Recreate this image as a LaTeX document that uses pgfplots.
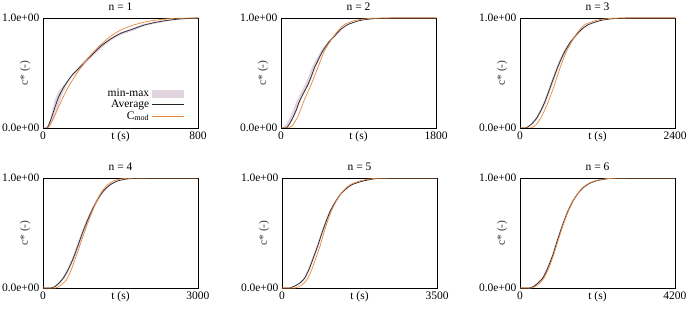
\documentclass[border=0pt]{standalone}
\usepackage{pgfplots}
\pgfplotsset{compat=1.18}
\usepackage{fontspec}
\setmainfont{Liberation Serif}
\definecolor{bandc}{RGB}{226,212,222}
\definecolor{orangec}{RGB}{232,135,58}
\definecolor{avgc}{RGB}{35,35,45}
\definecolor{labc}{RGB}{60,60,60}
\pgfplotsset{
  panel/.style={
    width=155pt, height=110pt, scale only axis,
    font=\fontsize{11.5}{13}\selectfont,
    /pgf/number format/assume math mode=true,
    /pgf/number format/1000 sep={},
    xmin=0, ymin=0, ymax=1,
    ytick={0,1}, yticklabels={0.0e+00,1.0e+00},
    tick style={draw=none},
    axis line style={line width=0.8pt},
    xlabel={t (s)}, ylabel={c* (-)},
    xlabel style={at={(axis description cs:0.5,0)}, anchor=north, inner sep=0.333em},
    ylabel style={at={(axis description cs:-0.116,0.5)}, anchor=center, text=labc},
    title style={yshift=-2pt},
    anchor=south west,
  },
  avg/.style={avgc, line width=0.7pt, smooth, tension=0.4,
    legend image code/.code={\draw[##1] (0pt,0pt) -- (32pt,0pt);}},
  cmod/.style={orangec, line width=0.7pt, smooth, tension=0.4,
    legend image code/.code={\draw[##1] (0pt,0pt) -- (32pt,0pt);}},
  band/.style={fill=bandc, draw=none,
    legend image code/.code={\fill[bandc] (0pt,-4pt) rectangle (32pt,4pt);}},
}
\begin{document}
\begin{tikzpicture}
\useasboundingbox (0,0) rectangle (686pt,314pt);
% ---------- n = 1
\begin{axis}[panel, at={(43pt,186pt)}, xmax=800, xtick={0,800}, title={n = 1},
  legend plot pos=right, legend cell align=right,
  legend style={draw=none, fill=none, at={(axis description cs:0.93,0.03)}, anchor=south east,
    font=\fontsize{11.5}{13}\selectfont, row sep=-2pt}]
\addplot[band] coordinates {(20,0) (40,0.1) (60,0.25) (80,0.33) (100,0.38) (125,0.43) (150,0.49) (200,0.59) (250,0.68) (300,0.76) (350,0.82) (400,0.87) (465,0.91) (520,0.945) (580,0.968) (640,0.983) (700,0.993) (800,1)
 (800,1) (700,0.985) (640,0.97) (580,0.95) (520,0.925) (465,0.885) (400,0.845) (350,0.795) (300,0.725) (250,0.64) (200,0.55) (150,0.465) (125,0.40) (100,0.31) (80,0.2) (60,0.1) (45,0.04) (30,0)};
\addlegendentry{min-max}
\addplot[avg] coordinates {(0,0) (20,0) (30,0.03) (45,0.1) (60,0.18) (80,0.28) (100,0.35) (125,0.42) (150,0.48) (200,0.57) (250,0.66) (300,0.745) (350,0.81) (400,0.86) (465,0.9) (520,0.935) (580,0.96) (640,0.978) (700,0.99) (760,0.997) (800,1)};
\addlegendentry{Average}
\addplot[cmod] coordinates {(0,0) (25,0) (40,0.04) (60,0.11) (80,0.19) (100,0.265) (122,0.345) (150,0.43) (180,0.51) (217,0.6) (260,0.69) (300,0.76) (346,0.83) (400,0.89) (465,0.935) (530,0.965) (600,0.985) (680,0.997) (800,1)};
\addlegendentry{C\textsubscript{mod}}
\end{axis}
% ---------- n = 2
\begin{axis}[panel, at={(281pt,186pt)}, xmax=1800, xtick={0,1800}, title={n = 2}]
\addplot[band] coordinates {(25,0) (40,0.02) (65,0.04) (100,0.09) (140,0.16) (178,0.24) (225,0.315) (275,0.39) (318,0.465) (355,0.545) (408,0.625) (462,0.70) (542,0.785) (625,0.85) (690,0.9) (766,0.94) (904,0.976) (1045,0.992) (1250,1)
 (1300,1) (1060,0.992) (920,0.976) (784,0.94) (712,0.9) (652,0.85) (573,0.785) (497,0.70) (448,0.625) (400,0.545) (362,0.465) (322,0.39) (272,0.315) (225,0.24) (187,0.16) (147,0.09) (112,0.04) (82,0.005) (67,0)};
\addplot[avg] coordinates {(0,0) (55,0) (70,0.005) (100,0.04) (135,0.09) (175,0.16) (213,0.24) (260,0.315) (310,0.39) (350,0.465) (387,0.545) (435,0.625) (484,0.70) (560,0.785) (639,0.85) (700,0.9) (774,0.94) (910,0.976) (1050,0.992) (1250,0.999) (1800,1)};
\addplot[cmod] coordinates {(0,0) (85,0) (97,0.003) (140,0.03) (186,0.09) (225,0.16) (263,0.24) (305,0.315) (348,0.39) (388,0.47) (426,0.545) (465,0.625) (503,0.70) (565,0.78) (627,0.85) (680,0.9) (735,0.94) (852,0.976) (980,0.993) (1150,0.999) (1800,1)};
\end{axis}
% ---------- n = 3
\begin{axis}[panel, at={(520pt,186pt)}, xmax=2400, xtick={0,2400}, title={n = 3}]
\addplot[band] coordinates {(75,0) (83,0.003) (160,0.035) (238,0.09) (305,0.16) (367,0.24) (415,0.315) (460,0.39) (510,0.47) (558,0.545) (615,0.625) (677,0.70) (760,0.78) (857,0.85) (940,0.9) (1038,0.94) (1219,0.976) (1400,0.993) (1680,1)
 (1720,1) (1440,0.993) (1259,0.976) (1078,0.94) (980,0.9) (897,0.85) (800,0.78) (717,0.70) (655,0.625) (598,0.545) (550,0.47) (500,0.39) (455,0.315) (407,0.24) (345,0.16) (278,0.09) (200,0.035) (123,0.003) (115,0)};
\addplot[avg] coordinates {(0,0) (90,0) (103,0.003) (180,0.035) (258,0.09) (325,0.16) (387,0.24) (435,0.315) (480,0.39) (530,0.47) (578,0.545) (635,0.625) (697,0.70) (780,0.78) (877,0.85) (960,0.9) (1058,0.94) (1239,0.976) (1420,0.993) (1700,1) (2400,1)};
\addplot[cmod] coordinates {(0,0) (170,0) (181,0.003) (250,0.03) (320,0.09) (380,0.16) (439,0.24) (487,0.315) (532,0.39) (576,0.47) (619,0.545) (670,0.625) (723,0.70) (795,0.78) (867,0.85) (935,0.9) (1006,0.94) (1161,0.976) (1330,0.993) (1600,1) (2400,1)};
\end{axis}
% ---------- n = 4
\begin{axis}[panel, at={(43pt,26pt)}, xmax=3000, xtick={0,3000}, title={n = 4}]
\addplot[band] coordinates {(125,0) (195,0.01) (275,0.04) (368,0.09) (465,0.17) (561,0.27) (655,0.39) (754,0.52) (850,0.63) (947,0.73) (1045,0.815) (1141,0.88) (1265,0.935) (1398,0.97) (1555,0.988) (1720,0.996) (1975,1)
 (2025,1) (1770,0.996) (1605,0.988) (1448,0.97) (1315,0.935) (1191,0.88) (1095,0.815) (997,0.73) (900,0.63) (804,0.52) (705,0.39) (611,0.27) (515,0.17) (418,0.09) (325,0.04) (245,0.01) (175,0)};
\addplot[avg] coordinates {(0,0) (150,0) (220,0.01) (300,0.04) (393,0.09) (490,0.17) (586,0.27) (680,0.39) (779,0.52) (875,0.63) (972,0.73) (1070,0.815) (1166,0.88) (1290,0.935) (1423,0.97) (1580,0.988) (1745,0.996) (2000,1) (3000,1)};
\addplot[cmod] coordinates {(0,0) (240,0) (300,0.01) (380,0.04) (457,0.076) (550,0.17) (650,0.30) (745,0.43) (843,0.56) (940,0.68) (1037,0.79) (1130,0.87) (1230,0.93) (1350,0.97) (1487,0.99) (1650,0.998) (2000,1) (3000,1)};
\end{axis}
% ---------- n = 5
\begin{axis}[panel, at={(282pt,26pt)}, xmax=3500, xtick={0,3500}, title={n = 5}]
\addplot[band] coordinates {(163,0) (275,0.02) (395,0.05) (487,0.09) (575,0.16) (652,0.24) (720,0.315) (788,0.39) (852,0.47) (916,0.545) (990,0.625) (1066,0.70) (1175,0.78) (1292,0.85) (1415,0.9) (1556,0.94) (1781,0.97) (2025,0.99) (2375,1)
 (2425,1) (2075,0.99) (1831,0.97) (1606,0.94) (1465,0.9) (1342,0.85) (1225,0.78) (1116,0.70) (1040,0.625) (966,0.545) (902,0.47) (838,0.39) (770,0.315) (702,0.24) (625,0.16) (537,0.09) (445,0.05) (325,0.02) (213,0)};
\addplot[avg] coordinates {(0,0) (170,0) (188,0.002) (300,0.02) (420,0.05) (512,0.09) (600,0.16) (677,0.24) (745,0.315) (813,0.39) (877,0.47) (941,0.545) (1015,0.625) (1091,0.70) (1200,0.78) (1317,0.85) (1440,0.9) (1581,0.94) (1806,0.97) (2050,0.99) (2400,1) (3500,1)};
\addplot[cmod] coordinates {(0,0) (285,0) (301,0.002) (400,0.015) (500,0.045) (587,0.09) (665,0.16) (738,0.24) (802,0.315) (866,0.39) (922,0.47) (979,0.545) (1045,0.625) (1114,0.70) (1210,0.78) (1317,0.85) (1420,0.9) (1543,0.94) (1731,0.97) (1950,0.99) (2300,1) (3500,1)};
\end{axis}
% ---------- n = 6
\begin{axis}[panel, at={(520pt,26pt)}, xmax=4200, xtick={0,4200}, title={n = 6}]
\addplot[band] coordinates {(225,0) (325,0.01) (445,0.04) (592,0.09) (725,0.18) (864,0.30) (995,0.44) (1136,0.58) (1275,0.70) (1408,0.79) (1545,0.86) (1680,0.91) (1855,0.95) (2043,0.975) (2275,0.99) (2496,0.997) (2875,1)
 (2925,1) (2546,0.997) (2325,0.99) (2093,0.975) (1905,0.95) (1730,0.91) (1595,0.86) (1458,0.79) (1325,0.70) (1186,0.58) (1045,0.44) (914,0.30) (775,0.18) (642,0.09) (495,0.04) (375,0.01) (275,0)};
\addplot[avg] coordinates {(0,0) (250,0) (350,0.01) (470,0.04) (617,0.09) (750,0.18) (889,0.30) (1020,0.44) (1161,0.58) (1300,0.70) (1433,0.79) (1570,0.86) (1705,0.91) (1880,0.95) (2068,0.975) (2300,0.99) (2521,0.997) (2900,1) (4200,1)};
\addplot[cmod] coordinates {(0,0) (300,0) (400,0.01) (520,0.04) (650,0.09) (780,0.18) (910,0.30) (1040,0.44) (1175,0.58) (1310,0.70) (1440,0.79) (1575,0.865) (1705,0.915) (1880,0.955) (2068,0.978) (2300,0.992) (2521,0.998) (2900,1) (4200,1)};
\end{axis}
\end{tikzpicture}
\end{document}
